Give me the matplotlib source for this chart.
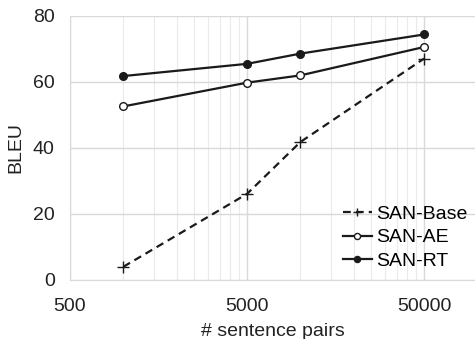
import numpy as np
import matplotlib.pyplot as plt
from matplotlib.ticker import FixedLocator, NullFormatter

plt.rcParams['font.family'] = ['Liberation Sans', 'DejaVu Sans']

# ---------------- data ----------------
pairs = [1000, 5000, 10000, 50000]
san_base = [4.0, 26.1, 41.8, 67.1]
san_ae = [52.6, 59.8, 62.0, 70.6]
san_rt = [61.8, 65.5, 68.6, 74.4]
x_ticks = [500, 5000, 50000]
y_ticks = [0, 20, 40, 60, 80]

# ---------------- plot ----------------
fig = plt.figure(figsize=(4.75, 3.39), dpi=100)
ax = fig.add_axes([70 / 475, 1 - 280 / 339, 1 - 70 / 475, 264 / 339])

ax.plot(pairs, san_base, color='#1a1a1a', linestyle=(0, (3.5, 2.3)), linewidth=1.6,
        marker='+', markersize=8, markeredgewidth=1.0, label='SAN-Base', zorder=3)
ax.plot(pairs, san_ae, color='#1a1a1a', linewidth=1.6, marker='o', markersize=5.5,
        markerfacecolor='white', markeredgewidth=1.0, label='SAN-AE', zorder=3)
ax.plot(pairs, san_rt, color='#1a1a1a', linewidth=1.6, marker='o', markersize=5.5,
        markerfacecolor='#1a1a1a', label='SAN-RT', zorder=3)

ax.set_xscale('log')
ax.set_xlim(500, 97000)
ax.set_ylim(0, 80)
ax.xaxis.set_major_locator(FixedLocator(x_ticks))
ax.set_xticklabels([str(t) for t in x_ticks])
minor = [m * d for d in (500, 5000, 50000) for m in range(2, 10)]
ax.xaxis.set_minor_locator(FixedLocator(minor))
ax.xaxis.set_minor_formatter(NullFormatter())
ax.set_yticks(y_ticks)

ax.grid(which='major', color='#d9d9d9', linewidth=1.0)
ax.grid(which='minor', axis='x', color='#eaeaea', linewidth=0.8)
ax.set_axisbelow(True)
for s in ['top', 'right']:
    ax.spines[s].set_visible(False)
for s in ['left', 'bottom']:
    ax.spines[s].set_color('#d9d9d9')
ax.tick_params(which='both', length=0, labelsize=14, colors='#222222', pad=11)
ax.tick_params(axis='x', pad=13)

ax.set_xlabel('# sentence pairs', fontsize=14, color='#222222', labelpad=6)
ax.set_ylabel('BLEU', fontsize=14, color='#222222', labelpad=6)

ax.legend(loc='lower right', frameon=False, fontsize=14, handlelength=1.5,
          handletextpad=0.2, labelspacing=0.29, borderaxespad=0.0,
          bbox_to_anchor=(1.0, 0.01), markerscale=0.8)

fig.savefig('out.png', dpi=100)
